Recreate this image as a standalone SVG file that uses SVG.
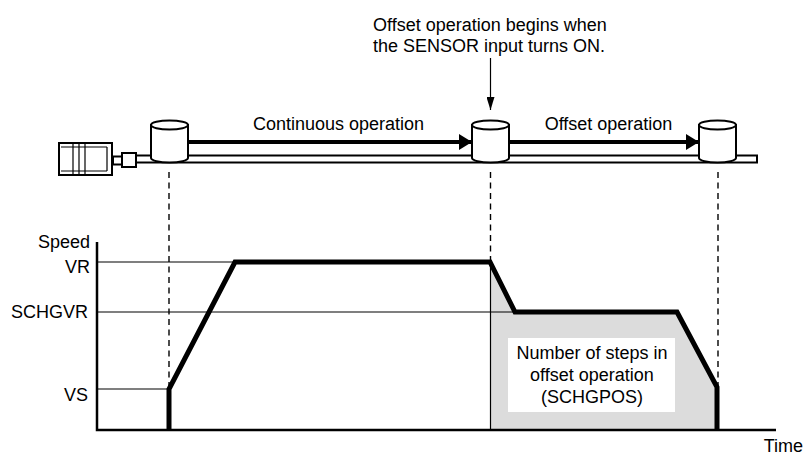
<svg xmlns="http://www.w3.org/2000/svg" width="805" height="455" viewBox="0 0 805 455">
  <style>
    text { font-family: "Liberation Sans", Arial, sans-serif; font-size: 18px; fill: #000; }
    .thin { stroke: #000; stroke-width: 1.2; fill: none; }
    .dash { stroke: #000; stroke-width: 1.4; stroke-dasharray: 6 4.5; fill: none; }
    .part { stroke: #000; stroke-width: 2; fill: #fff; }
    .move { stroke: #000; stroke-width: 4; fill: none; }
    .profile { stroke: #000; stroke-width: 5; fill: none; stroke-linejoin: miter; }
  </style>
  <defs>
    <marker id="bigHead" viewBox="0 0 13 16" refX="13" refY="8" markerWidth="13" markerHeight="16" markerUnits="userSpaceOnUse" orient="auto">
      <path d="M0,0 L13,8 L0,16 Z" fill="#000"/>
    </marker>
    <marker id="smallHead" viewBox="0 0 8 13" refX="4" refY="13" markerWidth="8" markerHeight="13" markerUnits="userSpaceOnUse" orient="0">
      <path d="M0,0 L8,0 L4,13 Z" fill="#000"/>
    </marker>
    <g id="cyl">
      <path class="part" d="M-18.5,0 L-18.5,33 A18.5,4.5 0 0 0 18.5,33 L18.5,0 Z"/>
      <ellipse class="part" cx="0" cy="0" rx="18.5" ry="4.5"/>
    </g>
  </defs>

  <!-- mechanism: rail, motor, coupling -->
  <g id="rail">
    <rect class="part" x="136" y="155.5" width="621" height="7"/>
  </g>
  <g id="motor">
    <rect class="part" x="113" y="156.5" width="9" height="8"/>
    <rect class="part" x="122" y="153" width="14" height="14"/>
    <rect class="part" x="59" y="143" width="53" height="32"/>
    <line class="thin" x1="61" y1="147" x2="107" y2="147" stroke-width="1.5"/>
    <line class="thin" x1="61" y1="171" x2="107" y2="171" stroke-width="1.5"/>
    <line class="thin" x1="73" y1="143" x2="73" y2="175" stroke-width="1.5"/>
    <line class="thin" x1="79" y1="143" x2="79" y2="175" stroke-width="1.5"/>
    <line class="thin" x1="85" y1="143" x2="85" y2="175" stroke-width="1.5"/>
    <line class="thin" x1="107" y1="147" x2="107" y2="171" stroke-width="1.5"/>
  </g>

  <!-- load positions on the rail -->
  <g id="load-start"><use href="#cyl" x="169.5" y="125"/></g>
  <g id="load-sensor"><use href="#cyl" x="490.5" y="125"/></g>
  <g id="load-end"><use href="#cyl" x="717.5" y="125"/></g>

  <!-- gray area under the offset part of the profile -->
  <g id="offset-area">
    <polygon points="490,262 515,312 677,312 717,387 717,430 490,430" fill="#dcdcdc"/>
    <rect x="508" y="338" width="167" height="74" fill="#fff"/>
    <text x="592" y="359" text-anchor="middle">Number of steps in</text>
    <text x="592" y="381" text-anchor="middle">offset operation</text>
    <text x="592" y="403" text-anchor="middle">(SCHGPOS)</text>
  </g>

  <!-- connectors and guide lines -->
  <g id="connectors">
    <line class="move" x1="188" y1="142" x2="472" y2="142" marker-end="url(#bigHead)"/>
    <line class="move" x1="509" y1="142" x2="699" y2="142" marker-end="url(#bigHead)"/>
    <line class="thin" x1="490.5" y1="58" x2="490.5" y2="110" marker-end="url(#smallHead)"/>
    <line class="dash" x1="169" y1="172" x2="169" y2="388"/>
    <line class="dash" x1="490.5" y1="172" x2="490.5" y2="262"/>
    <line class="dash" x1="718" y1="172" x2="718" y2="386"/>
  </g>

  <!-- speed / time chart -->
  <g id="chart">
    <line class="thin" x1="97" y1="262" x2="490" y2="262"/>
    <line class="thin" x1="97" y1="312" x2="515" y2="312"/>
    <line class="thin" x1="97" y1="389" x2="169" y2="389"/>
    <line class="thin" x1="490.5" y1="262" x2="490.5" y2="430"/>
    <polyline points="97,242 97,430 776,430" fill="none" stroke="#000" stroke-width="2.5"/>
    <polyline class="profile" points="169,430 169,389 235,262 490,262 515,312 677,312 717,387 717,430"/>
  </g>

  <!-- labels -->
  <g id="labels">
    <text x="373" y="31">Offset operation begins when</text>
    <text x="373" y="52">the SENSOR input turns ON.</text>
    <text x="338.5" y="130" text-anchor="middle">Continuous operation</text>
    <text x="608.5" y="130" text-anchor="middle">Offset operation</text>
    <text x="90" y="248" text-anchor="end">Speed</text>
    <text x="90" y="273" text-anchor="end">VR</text>
    <text x="88" y="318" text-anchor="end">SCHGVR</text>
    <text x="88" y="401" text-anchor="end">VS</text>
    <text x="803" y="452" text-anchor="end">Time</text>
  </g>
</svg>
